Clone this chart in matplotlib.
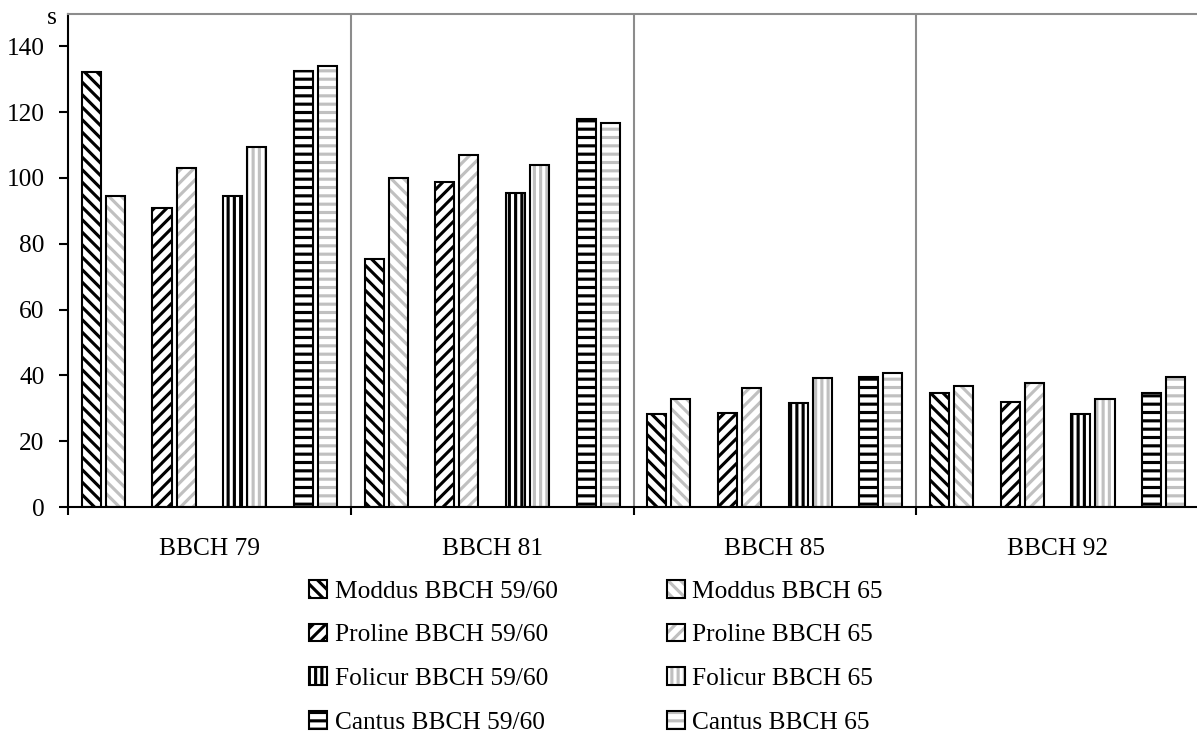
import matplotlib
matplotlib.use('Agg')
import matplotlib.pyplot as plt
import numpy as np

plt.rcParams['font.family'] = ['Liberation Serif', 'DejaVu Serif']
plt.rcParams['hatch.linewidth'] = 1.5

DPI = 150
W, H = 1197, 733

stages = ['BBCH 79', 'BBCH 81', 'BBCH 85', 'BBCH 92']
products = ['Moddus', 'Proline', 'Folicur', 'Cantus']
hatches = ['\\\\\\\\', '////', '||||', '---']

# seconds, per stage (79, 81, 85, 92)
moddus_5960 = [132.3, 75.3, 28.2, 34.7]
moddus_65 = [94.4, 99.9, 32.9, 36.7]
proline_5960 = [90.9, 98.9, 28.5, 32.0]
proline_65 = [102.9, 107.1, 36.1, 37.7]
folicur_5960 = [94.4, 95.3, 31.5, 28.3]
folicur_65 = [109.4, 104.0, 39.1, 32.7]
cantus_5960 = [132.4, 118.0, 39.4, 34.5]
cantus_65 = [134.1, 116.8, 40.8, 39.6]

early = [moddus_5960, proline_5960, folicur_5960, cantus_5960]
late = [moddus_65, proline_65, folicur_65, cantus_65]

gray = '#c0c0c0'
sep = '#8c8c8c'
fs = 12.2

fig = plt.figure(figsize=(W / DPI, H / DPI), dpi=DPI)
ax = fig.add_axes([68 / W, 1 - 507 / H, 1131 / W, (507 - 13.5) / H])

h_early, h_late = [], []
for k in range(4):
    x = np.arange(4) * 4 + k + 0.5
    b1 = ax.bar(x - 0.17, early[k], 0.27, color='white', edgecolor='black',
                hatch=hatches[k], linewidth=1)
    b2 = ax.bar(x + 0.17, late[k], 0.27, color='white', edgecolor=gray,
                hatch=hatches[k], linewidth=0)
    b3 = ax.bar(x + 0.17, late[k], 0.27, fill=False, edgecolor='black',
                linewidth=1)
    h_early.append(b1[0])
    h_late.append((b2[0], b3[0]))

ax.vlines([4, 8, 12], 0, 150, color=sep, linewidth=1)

ax.set_xlim(0, 16)
ax.set_ylim(0, 150)
ax.set_yticks(np.arange(0, 141, 20))
ax.set_xticks([0, 4, 8, 12, 16])
ax.set_xticklabels([])
ax.set_xticks([2, 6, 10, 14], stages, minor=True)
ax.tick_params(axis='x', which='major', direction='out', length=3.9, width=1)
ax.tick_params(axis='x', which='minor', length=0, pad=14.9, labelsize=fs)
ax.tick_params(axis='y', direction='out', length=4.3, width=1, pad=7, labelsize=fs)

for s in ['left', 'bottom']:
    ax.spines[s].set_color('black')
    ax.spines[s].set_linewidth(1)
for s in ['top', 'right']:
    ax.spines[s].set_color(sep)
    ax.spines[s].set_linewidth(1)

fig.text(52 / W, 1 - 24 / H, 's', ha='center', va='baseline', fontsize=fs)

handles = h_early + h_late
labels = [p + ' BBCH 59/60' for p in products] + [p + ' BBCH 65' for p in products]
fig.legend(handles, labels, ncol=2, loc='upper center',
           bbox_to_anchor=(596 / W, 1 - 580 / H), frameon=False,
           handlelength=0.7, handleheight=0.7, handletextpad=0.3,
           columnspacing=4.3, labelspacing=0.82, fontsize=fs,
           borderaxespad=0, borderpad=0)

fig.savefig('out.png', dpi=DPI)
